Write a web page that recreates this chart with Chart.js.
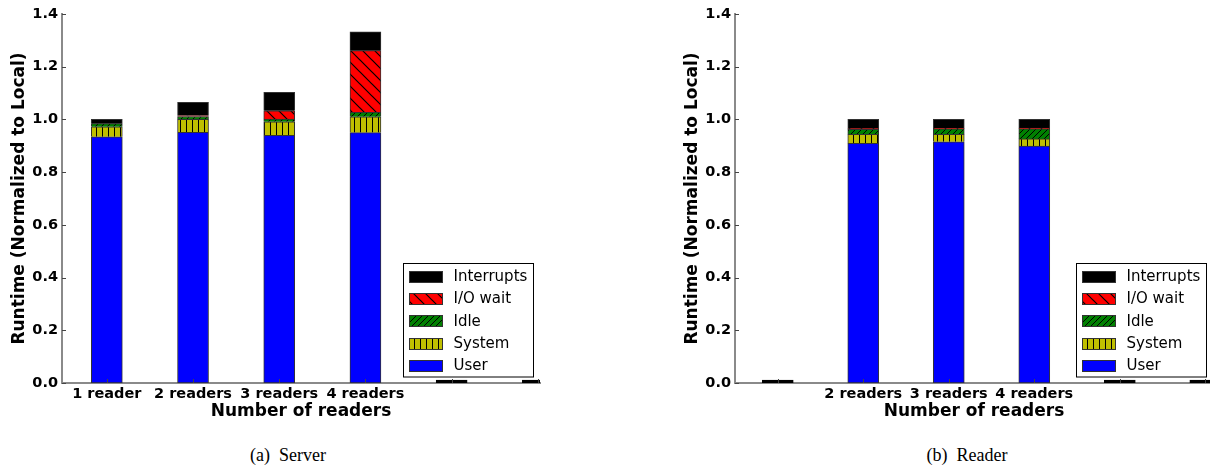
<!DOCTYPE html>
<html>
<head>
<meta charset="utf-8">
<script src="https://cdn.jsdelivr.net/npm/chart.js@4.4.1/dist/chart.umd.min.js"></script>
<style>
  html, body { margin: 0; padding: 0; background: #fff; }
  body { width: 1210px; height: 468px; overflow: hidden; position: relative; }
  canvas { position: absolute; top: 0; }
  #server { left: 0; }
  #reader { left: 673px; }
  .cap { position: absolute; top: 445px; width: 300px; text-align: center;
         font: 18px "Liberation Serif", "Times New Roman", serif; line-height: 20px;
         white-space: pre; color: #000; }
</style>
</head>
<body>
<canvas id="server" width="560" height="430"></canvas>
<canvas id="reader" width="560" height="430"></canvas>
<div class="cap" style="left:138px">(a)  Server</div>
<div class="cap" style="left:817px">(b)  Reader</div>
<script>
// Categories (tick labels) for each panel
const serverLabels = ["1 reader", "2 readers", "3 readers", "4 readers", "", ""];
const readerLabels = ["", "2 readers", "3 readers", "4 readers", "", ""];

// Runtime breakdown, normalized to local runtime — server side
const serverUser       = [0.934, 0.951, 0.940, 0.950, 0, 0];
const serverSystem     = [0.038, 0.049, 0.051, 0.060, 0, 0];
const serverIdle       = [0.012, 0.011, 0.010, 0.017, 0, 0];
const serverIOWait     = [0.000, 0.004, 0.032, 0.234, 0, 0];
const serverInterrupts = [0.016, 0.050, 0.070, 0.071, 0, 0];

// Runtime breakdown, normalized to local runtime — reader side
const readerUser       = [0, 0.909, 0.915, 0.899, 0, 0];
const readerSystem     = [0, 0.034, 0.028, 0.027, 0, 0];
const readerIdle       = [0, 0.019, 0.021, 0.038, 0, 0];
const readerIOWait     = [0, 0.004, 0.002, 0.003, 0, 0];
const readerInterrupts = [0, 0.034, 0.034, 0.033, 0, 0];

const yTicks = [0, 0.2, 0.4, 0.6, 0.8, 1.0, 1.2, 1.4];

const SPINE = '#8a8a8a';
const EDGE = '#333';

// Hatched fills built as repeating canvas patterns
function hatch(bg, kind, size, lw) {
  const c = document.createElement('canvas');
  c.width = size; c.height = size;
  const g = c.getContext('2d');
  g.fillStyle = bg; g.fillRect(0, 0, size, size);
  g.strokeStyle = '#000'; g.lineWidth = lw;
  g.beginPath();
  if (kind === '|') {
    g.moveTo(0.5, 0); g.lineTo(0.5, size);
  } else if (kind === '/') {
    g.moveTo(-1, size + 1); g.lineTo(size + 1, -1);
    g.moveTo(-1 - size, size + 1); g.lineTo(1, -1);
    g.moveTo(size - 1, size + 1); g.lineTo(2 * size + 1, -1);
  } else if (kind === '\\') {
    g.moveTo(-1, -1); g.lineTo(size + 1, size + 1);
    g.moveTo(-1 - size, -1); g.lineTo(1, size + 1);
    g.moveTo(size - 1, -1); g.lineTo(2 * size + 1, size + 1);
  }
  g.stroke();
  return g.createPattern(c, 'repeat');
}

const fills = {
  user: '#0000ff',
  system: hatch('#bfbf00', '|', 6, 1),
  idle: hatch('#008000', '/', 6, 1),
  io: hatch('#ff0000', '\\', 12, 1.2),
  interrupts: '#000000'
};

const toPoints = arr => arr.map((v, i) => ({ x: i, y: v }));
const isEmpty = ctx => ctx.raw && ctx.raw.y === 0;

function makeDatasets(user, system, idle, io, intr) {
  const common = { borderColor: EDGE, borderWidth: 1, barThickness: 31 };
  return [
    // empty categories still show a flat black bar on the baseline
    { label: 'User', data: toPoints(user), ...common,
      backgroundColor: ctx => (isEmpty(ctx) ? '#000' : fills.user),
      borderColor: ctx => (isEmpty(ctx) ? '#000' : EDGE),
      borderSkipped: false, minBarLength: 3 },
    { label: 'System', data: toPoints(system), backgroundColor: fills.system, ...common },
    { label: 'Idle', data: toPoints(idle), backgroundColor: fills.idle, ...common },
    { label: 'I/O wait', data: toPoints(io), backgroundColor: fills.io, ...common },
    { label: 'Interrupts', data: toPoints(intr), backgroundColor: fills.interrupts, ...common }
  ];
}

const legendFill = { 'User': fills.user, 'System': fills.system, 'Idle': fills.idle,
                     'I/O wait': fills.io, 'Interrupts': fills.interrupts };

// Legend box in the lower right corner of the plot area
const boxLegend = {
  id: 'boxLegend',
  afterDraw(chart) {
    const { ctx, chartArea: a } = chart;
    const items = chart.data.datasets.slice().reverse();
    const w = 130, h = 113.5, rowH = 22.3;
    const x0 = Math.round(a.right - 7.3 - w) + 0.5;
    const y0 = Math.round(a.bottom - 6.3 - h) + 0.5;
    ctx.save();
    ctx.fillStyle = '#fff';
    ctx.fillRect(x0, y0, w, h);
    ctx.strokeStyle = '#000';
    ctx.lineWidth = 1;
    ctx.strokeRect(x0, y0, w, h);
    ctx.font = '15px "DejaVu Sans"';
    ctx.textBaseline = 'middle';
    items.forEach((ds, i) => {
      const cy = y0 + 12.7 + i * rowH;
      const sx = Math.round(x0 + 5.3) + 0.5, sy = Math.round(cy - 5.5) + 0.5;
      ctx.fillStyle = legendFill[ds.label];
      ctx.fillRect(sx, sy, 33, 11);
      ctx.strokeStyle = EDGE;
      ctx.strokeRect(sx, sy, 33, 11);
      ctx.fillStyle = '#000';
      ctx.fillText(ds.label, x0 + 50, cy + 1);
    });
    ctx.restore();
  }
};

// Short tick marks pointing into the plot area
const innerTicks = {
  id: 'innerTicks',
  afterDatasetsDraw(chart) {
    const { ctx, chartArea: a, scales: { x, y } } = chart;
    ctx.save();
    ctx.strokeStyle = '#444';
    ctx.lineWidth = 1;
    ctx.beginPath();
    y.ticks.forEach(t => {
      const py = Math.round(y.getPixelForValue(t.value)) + 0.5;
      ctx.moveTo(a.left, py); ctx.lineTo(a.left + 4, py);
    });
    x.ticks.forEach(t => {
      const px = Math.round(x.getPixelForValue(t.value)) + 0.5;
      if (px <= a.right) { ctx.moveTo(px, a.bottom); ctx.lineTo(px, a.bottom - 4); }
    });
    ctx.stroke();
    ctx.restore();
  }
};

function makeChart(id, labels, datasets, xMin, xMax) {
  const tickFont = { family: 'DejaVu Sans', size: 14.5, weight: 'bold' };
  const titleFont = { family: 'DejaVu Sans', size: 17, weight: 'bold' };
  return new Chart(document.getElementById(id), {
    type: 'bar',
    data: { datasets },
    plugins: [innerTicks, boxLegend],
    options: {
      responsive: false,
      animation: false,
      devicePixelRatio: 1,
      layout: { padding: { top: 14, right: 20, bottom: 0, left: 0 } },
      plugins: { legend: { display: false }, tooltip: { enabled: false } },
      scales: {
        x: {
          type: 'linear', min: xMin, max: xMax, stacked: true, offset: false,
          grid: { display: false, drawTicks: false },
          border: { display: true, color: SPINE, width: 2 },
          afterBuildTicks: s => { s.ticks = labels.map((_, i) => ({ value: i })); },
          afterFit: s => { s.height = 47; },
          ticks: {
            color: '#000', font: tickFont, padding: 3, autoSkip: false, maxRotation: 0,
            callback: v => labels[v] ?? ''
          },
          title: { display: true, text: 'Number of readers', color: '#000', font: titleFont,
                   padding: { top: 0, bottom: 8 } }
        },
        y: {
          type: 'linear', min: 0, max: 1.4, stacked: true,
          grid: { display: false, drawTicks: false },
          border: { display: true, color: SPINE, width: 2 },
          afterBuildTicks: s => { s.ticks = yTicks.map(v => ({ value: v })); },
          afterFit: s => { s.width = 62; },
          ticks: { color: '#000', font: tickFont, padding: 4, callback: v => v.toFixed(1) },
          title: { display: true, text: 'Runtime (Normalized to Local)', color: '#000', font: titleFont,
                   padding: { top: 9.5, bottom: 0 } }
        }
      }
    }
  });
}

makeChart('server', serverLabels,
  makeDatasets(serverUser, serverSystem, serverIdle, serverIOWait, serverInterrupts), -0.52, 5.025);
makeChart('reader', readerLabels,
  makeDatasets(readerUser, readerSystem, readerIdle, readerIOWait, readerInterrupts), -0.50, 5.09);
</script>
</body>
</html>
